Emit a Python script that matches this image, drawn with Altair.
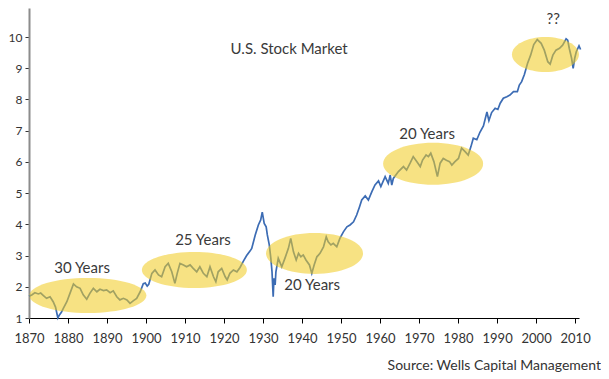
import altair as alt
import pandas as pd

years = [1870.0, 1870.7, 1871.5, 1872.4, 1873.0, 1873.7, 1874.5, 1875.4, 1876.2, 1876.8,
         1877.4, 1877.8, 1878.3, 1878.8, 1879.7, 1880.5, 1881.4, 1882.2, 1883.1, 1883.9,
         1884.8, 1885.6, 1886.5, 1887.4, 1888.2, 1889.1, 1889.9, 1890.8, 1891.6, 1892.5,
         1893.3, 1894.2, 1895.1, 1895.9, 1896.7, 1897.6, 1898.5, 1899.3, 1899.8, 1900.3,
         1900.7, 1901.5, 1902.3, 1903.2, 1904.0, 1904.9, 1905.7, 1906.6, 1907.4, 1908.0,
         1908.7, 1909.6, 1910.4, 1911.3, 1912.1, 1913.0, 1913.8, 1914.7, 1915.6, 1916.4,
         1917.3, 1917.9, 1918.5, 1919.4, 1920.3, 1920.8, 1921.5, 1922.4, 1923.3, 1924.1,
         1925.0, 1925.8, 1926.7, 1927.1, 1928.0, 1928.8, 1929.4, 1929.8, 1930.3, 1930.8,
         1931.1, 1931.6, 1932.0, 1932.3, 1932.6, 1932.8, 1933.1, 1933.3, 1933.9, 1934.8,
         1935.6, 1936.5, 1937.1, 1937.8, 1938.5, 1939.1, 1939.7, 1940.3, 1941.0, 1941.9,
         1942.5, 1943.1, 1943.8, 1944.6, 1945.5, 1946.2, 1946.7, 1947.4, 1948.0, 1948.9,
         1949.7, 1950.6, 1951.5, 1952.3, 1953.2, 1954.0, 1954.7, 1955.3, 1956.2, 1957.0,
         1957.9, 1958.7, 1959.6, 1960.2, 1961.3, 1962.1, 1962.6, 1963.0, 1963.4, 1964.7,
         1966.0, 1966.8, 1967.7, 1968.5, 1969.4, 1970.3, 1970.9, 1971.8, 1972.4, 1973.0,
         1973.8, 1974.7, 1975.4, 1976.2, 1977.0, 1977.8, 1978.4, 1979.2, 1980.1, 1980.9,
         1981.8, 1982.6, 1983.3, 1983.9, 1984.8, 1985.6, 1986.5, 1987.4, 1987.9, 1988.6,
         1989.5, 1990.2, 1990.8, 1991.6, 1992.5, 1993.3, 1994.2, 1995.2, 1995.7, 1996.3,
         1997.0, 1997.8, 1998.6, 1999.4, 2000.3, 2001.3, 2002.1, 2003.0, 2003.6, 2004.3,
         2005.1, 2006.0, 2006.8, 2007.7, 2008.1, 2008.5, 2009.1, 2009.5, 2009.9, 2010.3,
         2011.0, 2011.4]
values = [1.70, 1.74, 1.81, 1.77, 1.80, 1.72, 1.63, 1.68, 1.52, 1.35,
          1.00, 1.10, 1.18, 1.31, 1.52, 1.79, 2.09, 2.00, 1.95, 1.74,
          1.60, 1.79, 1.95, 1.84, 1.92, 1.88, 1.90, 1.81, 1.87, 1.68,
          1.58, 1.63, 1.58, 1.47, 1.55, 1.63, 1.84, 2.10, 2.12, 2.02,
          2.08, 2.43, 2.54, 2.38, 2.32, 2.64, 2.75, 2.48, 2.11, 2.43,
          2.75, 2.70, 2.64, 2.70, 2.59, 2.48, 2.64, 2.43, 2.32, 2.64,
          2.32, 2.16, 2.48, 2.59, 2.32, 2.22, 2.43, 2.54, 2.48, 2.62,
          2.83, 3.00, 3.15, 3.23, 3.66, 3.98, 4.14, 4.39, 4.03, 3.92,
          3.66, 3.34, 2.91, 2.48, 1.68, 2.27, 2.06, 2.48, 2.91, 2.64,
          2.91, 3.23, 3.55, 3.12, 2.86, 3.07, 2.96, 3.02, 2.86, 2.70,
          2.43, 2.70, 2.96, 3.07, 3.28, 3.60, 3.44, 3.34, 3.39, 3.28,
          3.55, 3.76, 3.92, 3.98, 4.08, 4.30, 4.55, 4.78, 4.91, 4.78,
          5.05, 5.26, 5.39, 5.21, 5.53, 5.31, 5.58, 5.26, 5.47, 5.69,
          5.85, 5.74, 5.96, 6.17, 6.01, 5.85, 6.06, 6.22, 6.17, 6.28,
          6.01, 5.53, 5.96, 6.11, 6.05, 6.01, 5.90, 6.01, 6.11, 6.44,
          6.33, 6.22, 6.49, 6.76, 6.71, 6.95, 7.15, 7.60, 7.32, 7.58,
          7.72, 7.68, 7.88, 8.04, 8.09, 8.14, 8.25, 8.25, 8.46, 8.57,
          8.80, 9.15, 9.42, 9.76, 9.92, 9.80, 9.58, 9.21, 9.13, 9.42,
          9.58, 9.64, 9.74, 9.94, 9.90, 9.64, 9.32, 9.00, 9.32, 9.53,
          9.72, 9.60]

x_ticks = list(range(1870, 2011, 10))
y_ticks = list(range(1, 11))

# ---- annotations ----
label_texts = ["U.S. Stock Market", "30 Years", "25 Years", "20 Years", "20 Years", "??"]
label_years = [1936.7, 1883.6, 1914.6, 1942.6, 1972.05, 2004.4]
label_values = [9.62, 2.60, 3.50, 2.06, 6.90, 10.58]

ellipse_years = [1885.1, 1912.4, 1943.2, 1973.6, 2002.4]
ellipse_values = [1.72, 2.54, 3.07, 5.94, 9.44]
source_text = "Source:  Wells Capital Management"

# ellipse geometry (pixels): widths and heights
ELL_W = [117, 105, 97, 100, 67]
ELL_H = [35, 36, 41, 42, 35]

FONT = "Lato"
BLUE = "#3c6cb4"
YELLOW = "#f0cc22"

xs = alt.Scale(domain=[1870, 2011], nice=False, zero=False)
ys = alt.Scale(domain=[1, 10.93], nice=False, zero=False)

x_axis = alt.Axis(values=x_ticks, format="d", title=None, grid=False,
                  labelOverlap=False, labelFlush=False)
y_axis = alt.Axis(values=y_ticks, format="d", title=None, grid=False,
                  labelOverlap=False, labelFlush=False)

X = alt.X("year:Q", scale=xs, axis=x_axis)
Y = alt.Y("value:Q", scale=ys, axis=y_axis)

df = pd.DataFrame({"year": years, "value": values})

line = alt.Chart(df).mark_line(color=BLUE, strokeWidth=1.7, clip=False).encode(x=X, y=Y)

layers = [line]
for yr, v, w, h in zip(ellipse_years, ellipse_values, ELL_W, ELL_H):
    r = h / w
    path = f"M -1 0 A 1 {r:.4f} 0 1 1 1 0 A 1 {r:.4f} 0 1 1 -1 0 Z"
    e = alt.Chart(pd.DataFrame({"year": [yr], "value": [v]})).mark_point(
        shape=path, size=w * w, filled=True, fill=YELLOW, fillOpacity=0.56,
        strokeWidth=0, opacity=1
    ).encode(x=X, y=Y)
    layers.append(e)

lab_df = pd.DataFrame({"year": label_years, "value": label_values, "text": label_texts})
labels = alt.Chart(lab_df).mark_text(font=FONT, fontSize=15, color="#3a3a3a",
                                     align="center", baseline="middle").encode(
    x=X, y=Y, text="text:N",
)
layers.append(labels)

src = alt.Chart(pd.DataFrame({"t": [source_text]})).mark_text(
    font=FONT, fontSize=14, color="#333333", align="right", baseline="middle"
).encode(x=alt.value(572), y=alt.value(358), text="t:N")
layers.append(src)

chart = alt.layer(*layers).properties(
    width=550, height=310,
    autosize=alt.AutoSizeParams(type="none"),
    padding={"left": 21, "top": 0, "right": 22, "bottom": 57},
).configure_view(stroke=None).configure_axisX(
    domainColor="#000000", domainWidth=1, tickColor="#000000",
    tickSize=5, labelPadding=9, labelFontSize=13, labelFont=FONT,
    labelColor="#333333", labelOverlap=False, labelFlush=False
).configure_axisY(
    domainColor="#8c8c8c", domainWidth=2, tickColor="#333333",
    tickSize=4, labelPadding=3, labelFontSize=12, labelFont=FONT,
    labelColor="#333333", labelOverlap=False, labelFlush=False
)

chart.save("out.html", embed_options={"renderer": "svg", "actions": False})
